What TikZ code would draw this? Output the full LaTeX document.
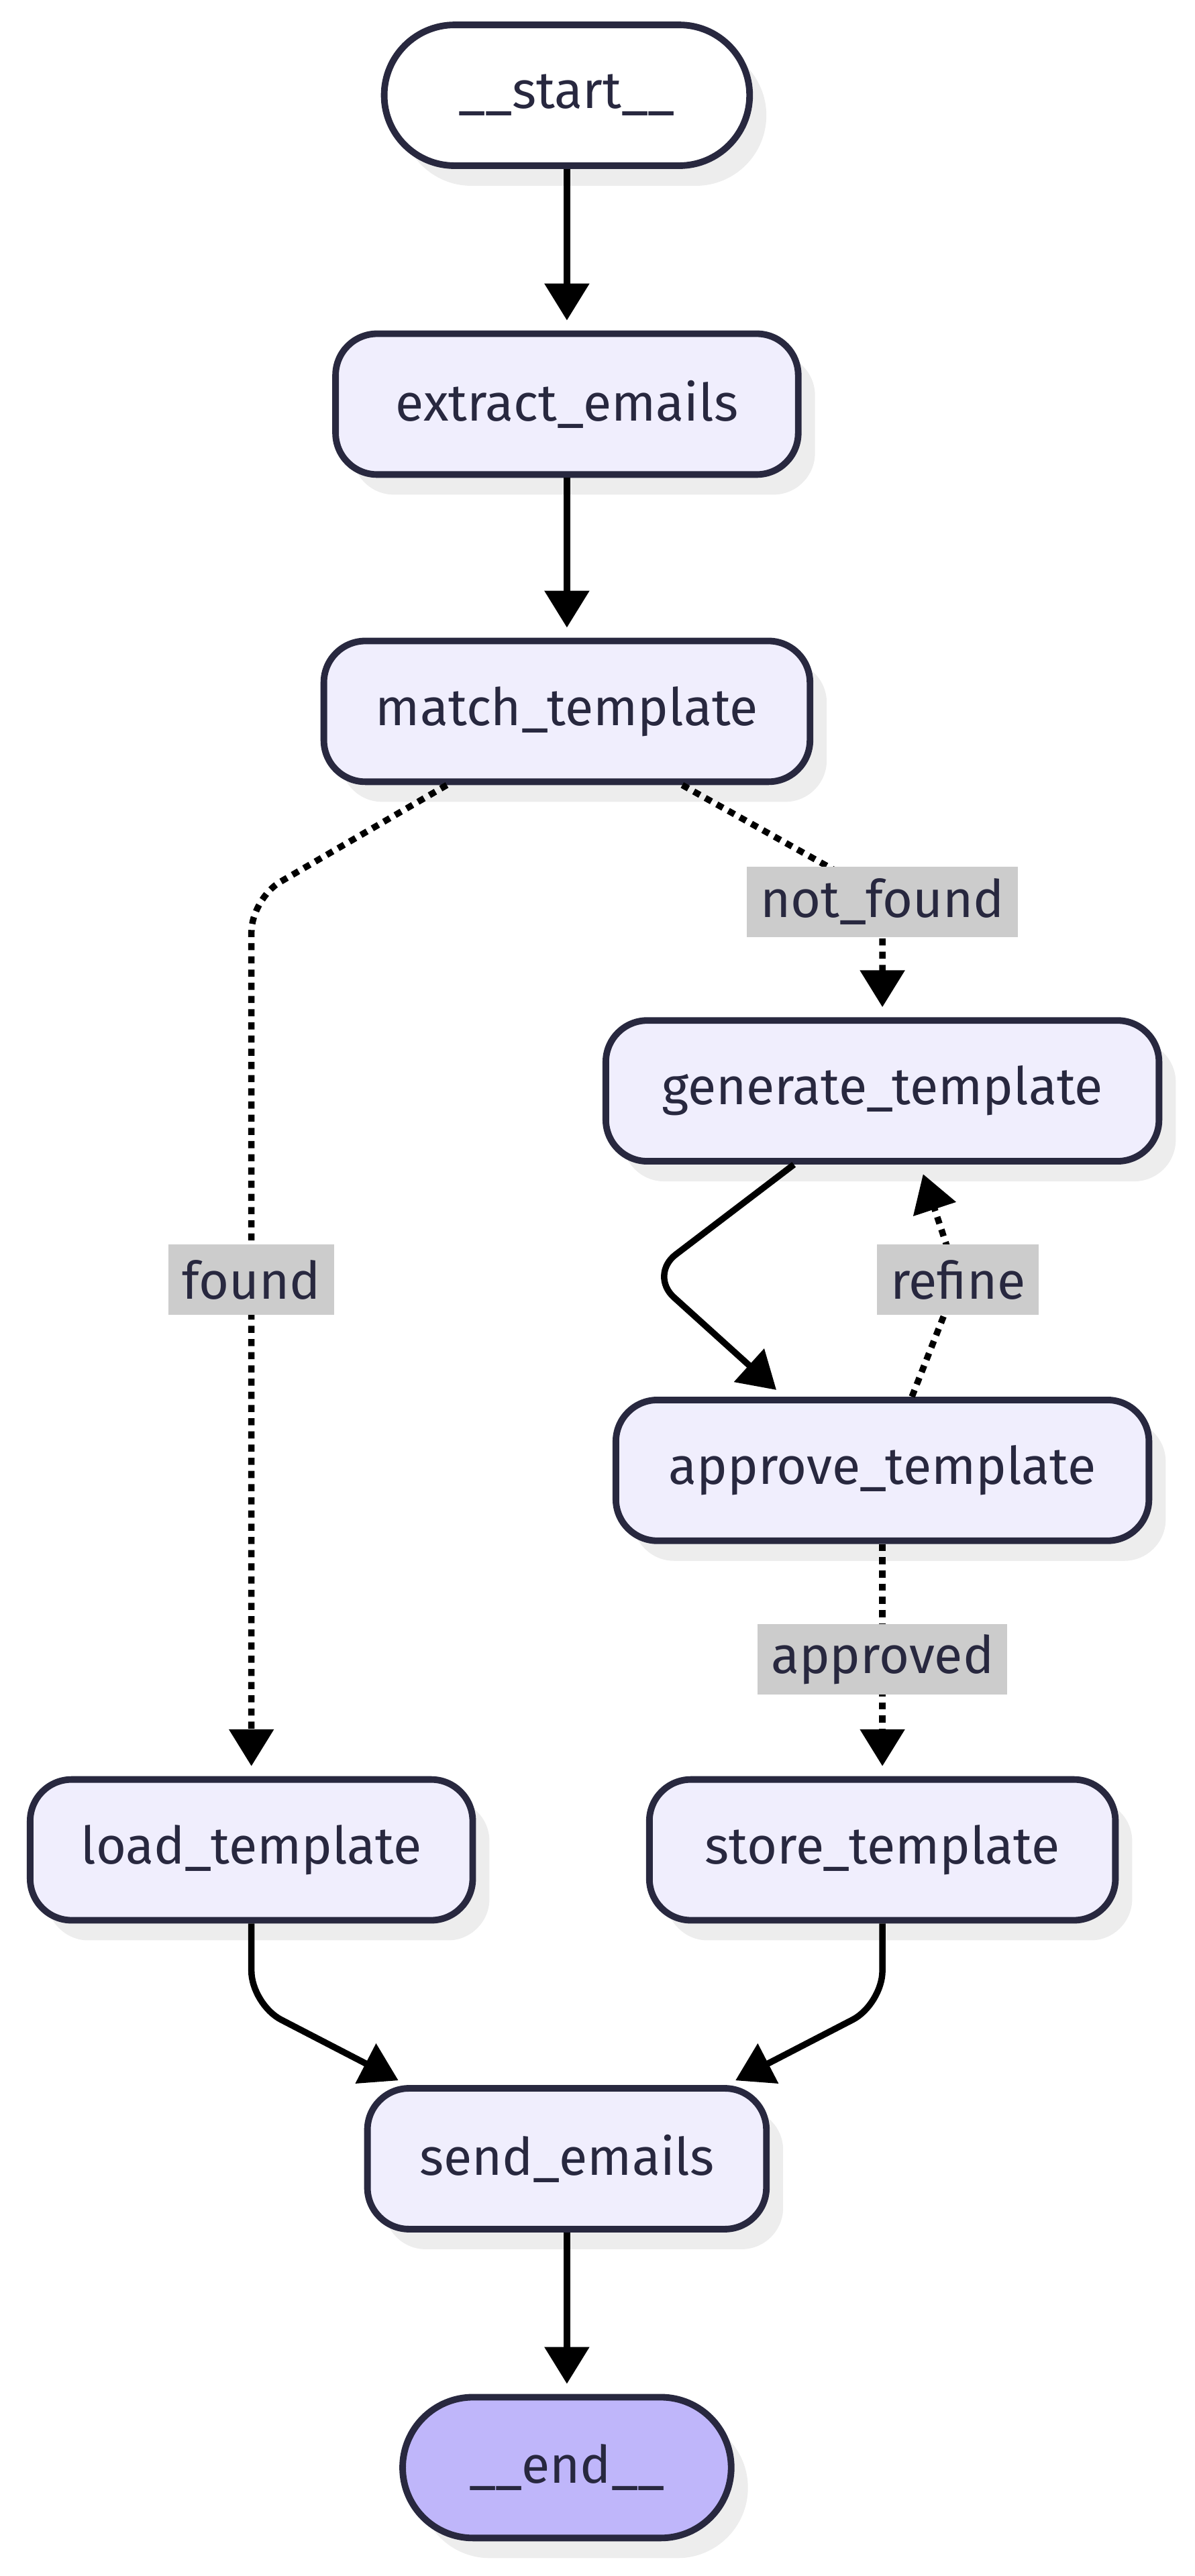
\documentclass[tikz,border=0pt]{standalone}
\usepackage{fontspec}
\setmainfont{Fira Sans}
\usetikzlibrary{arrows.meta, shadows, positioning}
\definecolor{nodeline}{HTML}{28283F}
\definecolor{nodefill}{HTML}{F0EEFD}
\definecolor{endfill}{HTML}{BFB6FA}
\definecolor{labelgray}{HTML}{CCCCCC}
\definecolor{shadowgray}{HTML}{EDEDED}
\tikzset{
  stepnode/.style={draw=nodeline, line width=2.8pt, fill=nodefill, rounded corners=0.62cm,
    minimum height=2.1cm, text=nodeline, font=\fontsize{22}{26}\selectfont,
    drop shadow={shadow xshift=0.25cm, shadow yshift=-0.3cm, fill=shadowgray, opacity=1}},
  termnode/.style={stepnode, rounded corners=1.05cm},
  edgelabel/.style={fill=labelgray, text=nodeline, font=\fontsize{22}{26}\selectfont,
    minimum height=1.05cm, inner xsep=0.2cm},
  flow/.style={line width=2.7pt, -{Triangle[length=0.55cm,width=0.65cm]}, shorten >=0.15cm, rounded corners=0.5cm},
  flowdot/.style={flow, dash pattern=on 3pt off 2.6pt}
}
\begin{document}
\begin{tikzpicture}[x=0.0245cm, y=-0.0245cm]
  \useasboundingbox (0,0) rectangle (727,1568);
  \node[termnode, fill=white, minimum width=5.45cm] (start) at (345,58) {\_\_start\_\_};
  \node[stepnode, minimum width=6.9cm] (extract) at (345,246) {extract\_emails};
  \node[stepnode, minimum width=7.25cm] (match) at (345,433) {match\_template};
  \node[stepnode, minimum width=8.25cm] (gen) at (537,664) {generate\_template};
  \node[stepnode, minimum width=7.95cm] (approve) at (537,895) {approve\_template};
  \node[stepnode, minimum width=6.6cm] (load) at (153,1126) {load\_template};
  \node[stepnode, minimum width=6.95cm] (store) at (537,1126) {store\_template};
  \node[stepnode, minimum width=5.95cm] (send) at (345,1314) {send\_emails};
  \node[termnode, fill=endfill, minimum width=4.9cm] (end) at (345,1502) {\_\_end\_\_};
  \coordinate (foundbend) at (153,547);
  \coordinate (notbend) at (537,546);
  \coordinate (genbend) at (395,776);
  \coordinate (refinebend) at (583,779);
  \coordinate (loadbend) at (153,1220);
  \coordinate (storebend) at (537,1220);
  \draw[flow] (start) -- (extract);
  \draw[flow] (extract) -- (match);
  \draw[flowdot] ([xshift=-1.79cm]match.south) -- (foundbend) -- (load.north);
  \draw[flowdot] ([xshift=1.72cm]match.south) -- (notbend) -- (gen.north);
  \draw[flow] ([xshift=-1.32cm]gen.south) -- (genbend) -- ([xshift=-1.47cm]approve.north);
  \draw[flowdot, rounded corners=0pt] ([xshift=0.44cm]approve.north) -- (refinebend) -- ([xshift=0.56cm]gen.south);
  \draw[flowdot] (approve) -- (store);
  \draw[flow] (load.south) -- (loadbend) -- ([xshift=-2.38cm]send.north);
  \draw[flow] (store.south) -- (storebend) -- ([xshift=2.38cm]send.north);
  \draw[flow] (send) -- (end);
  \node[edgelabel] (notfound) at (537,549) {not\_found};
  \node[edgelabel] (found) at (153,779) {found};
  \node[edgelabel] (refine) at (refinebend) {refine};
  \node[edgelabel] (approved) at (537,1010) {approved};
\end{tikzpicture}
\end{document}
